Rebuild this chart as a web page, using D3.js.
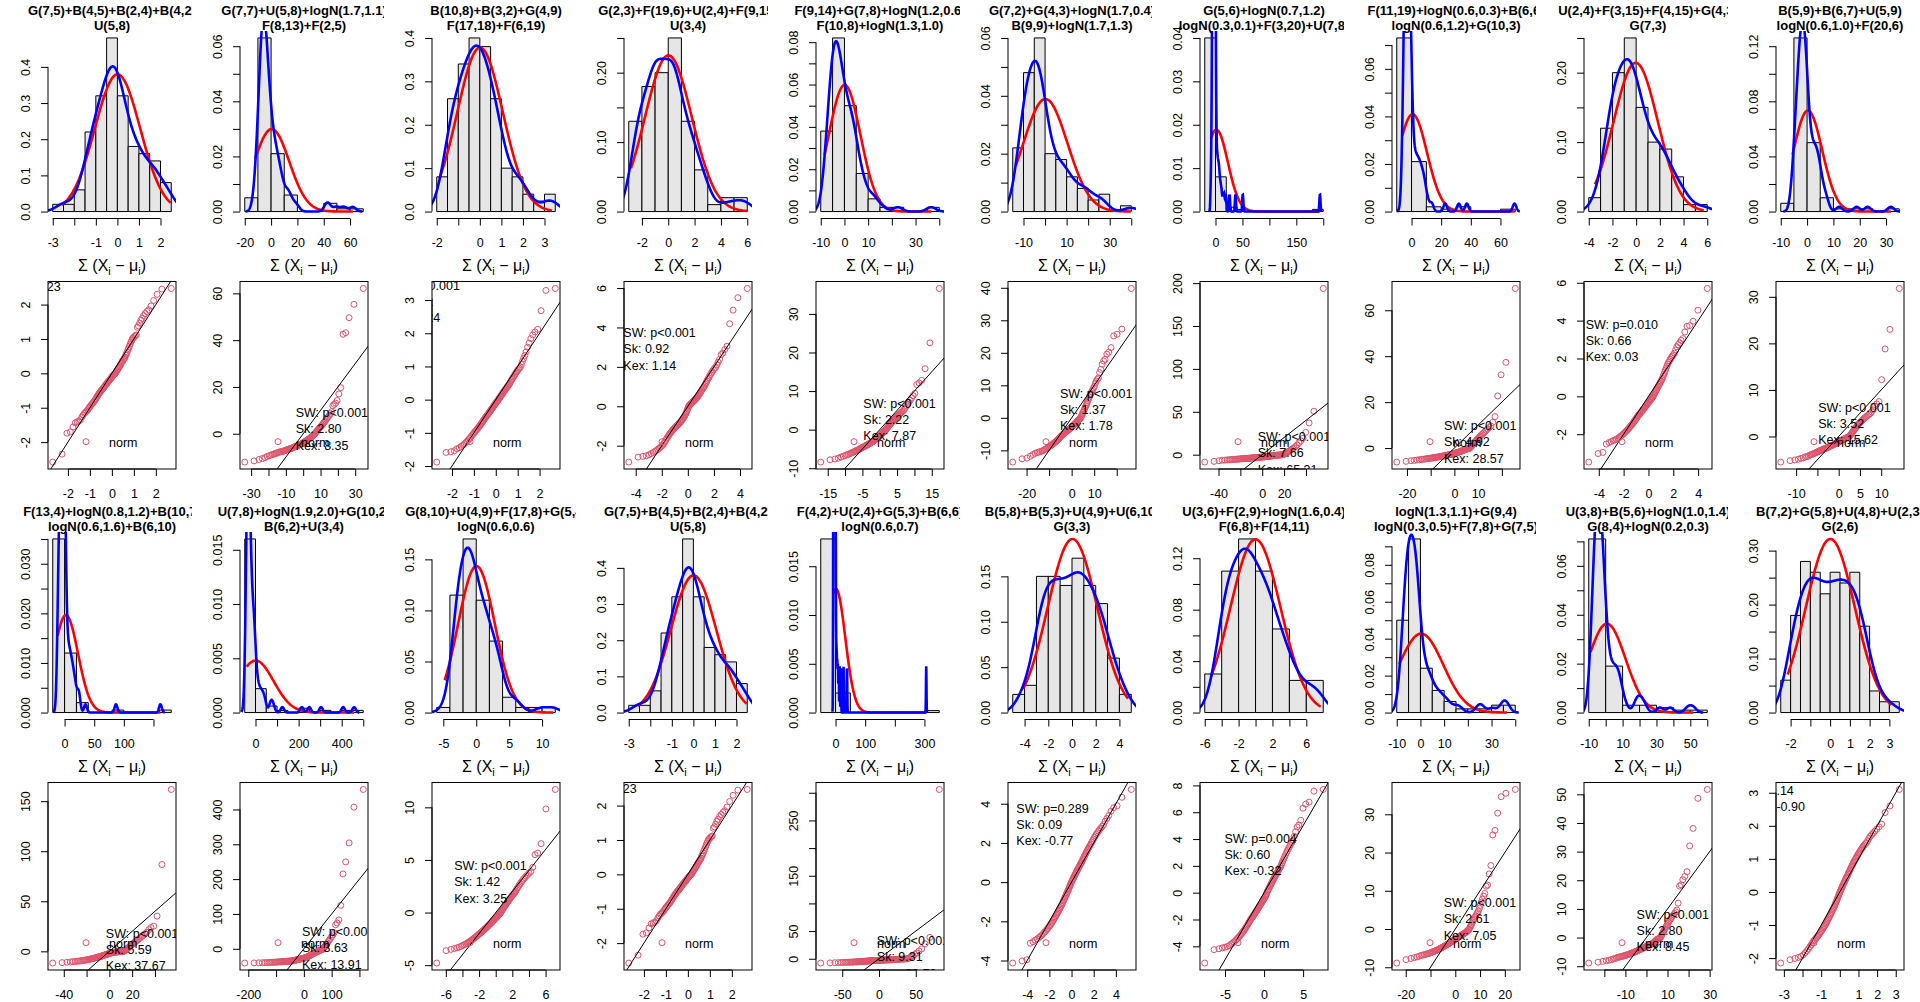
<!DOCTYPE html>
<html><head><meta charset="utf-8">
<script src="https://cdn.jsdelivr.net/npm/d3@7"></script>
<style>
body{margin:0;background:#fff;}
svg{display:block;font-family:"Liberation Sans",Arial,sans-serif;}
</style></head><body>
<svg id="c" width="1920" height="1002"></svg>
<script>
// ---------------- titles ----------------
const TITLE1 = ["G(7,5)+B(4,5)+B(2,4)+B(4,2)","G(7,7)+U(5,8)+logN(1.7,1.1)","B(10,8)+B(3,2)+G(4,9)","G(2,3)+F(19,6)+U(2,4)+F(9,15)","F(9,14)+G(7,8)+logN(1.2,0.6)","G(7,2)+G(4,3)+logN(1.7,0.4)","G(5,6)+logN(0.7,1.2)","F(11,19)+logN(0.6,0.3)+B(6,6)","U(2,4)+F(3,15)+F(4,15)+G(4,3)","B(5,9)+B(6,7)+U(5,9)",
"F(13,4)+logN(0.8,1.2)+B(10,7)","U(7,8)+logN(1.9,2.0)+G(10,2)","G(8,10)+U(4,9)+F(17,8)+G(5,4)","G(7,5)+B(4,5)+B(2,4)+B(4,2)","F(4,2)+U(2,4)+G(5,3)+B(6,6)","B(5,8)+B(5,3)+U(4,9)+U(6,10)","U(3,6)+F(2,9)+logN(1.6,0.4)","logN(1.3,1.1)+G(9,4)","U(3,8)+B(5,6)+logN(1.0,1.4)","B(7,2)+G(5,8)+U(4,8)+U(2,3)"];
const TITLE2 = ["U(5,8)","F(8,13)+F(2,5)","F(17,18)+F(6,19)","U(3,4)","F(10,8)+logN(1.3,1.0)","B(9,9)+logN(1.7,1.3)","logN(0.3,0.1)+F(3,20)+U(7,8)","logN(0.6,1.2)+G(10,3)","G(7,3)","logN(0.6,1.0)+F(20,6)",
"logN(0.6,1.6)+B(6,10)","B(6,2)+U(3,4)","logN(0.6,0.6)","U(5,8)","logN(0.6,0.7)","G(3,3)","F(6,8)+F(14,11)","logN(0.3,0.5)+F(7,8)+G(7,5)","G(8,4)+logN(0.2,0.3)","G(2,6)"];

// ---------------- samples: Σ(Xi − μi), n = 100 each ----------------
const D1 = [-2.58,-2.35,-1.74,-1.70,-1.56,-1.44,-1.41,-1.39,-1.35,-1.27,-1.21,-1.16,-1.13,-1.10,-1.06,-1.02,-0.98,-0.95,-0.91,-0.88,-0.86,-0.83,-0.79,-0.76,-0.73,-0.69,-0.66,-0.62,-0.59,-0.57,-0.54,-0.51,-0.49,-0.47,-0.45,-0.42,-0.40,-0.38,-0.35,-0.33,-0.31,-0.28,-0.26,-0.24,-0.22,-0.20,-0.18,-0.16,-0.13,-0.11,-0.09,-0.07,-0.05,-0.03,-0.02,-0.01,0.02,0.05,0.08,0.11,0.14,0.16,0.19,0.22,0.25,0.29,0.32,0.35,0.38,0.41,0.44,0.47,0.53,0.57,0.62,0.68,0.73,0.79,0.85,0.91,0.96,1.02,1.04,1.07,1.10,1.12,1.34,1.38,1.46,1.55,1.60,1.68,1.74,1.80,1.85,1.96,2.12,2.30,2.45,2.47];
const D2 = [-12.1,-11.6,-11.0,-10.6,-10.2,-9.7,-9.4,-9.1,-8.9,-8.7,-8.5,-8.3,-8.1,-7.9,-7.8,-7.7,-7.6,-7.5,-7.4,-7.3,-7.2,-7.1,-6.9,-6.8,-6.7,-6.6,-6.5,-6.4,-6.3,-6.2,-6.1,-5.9,-5.8,-5.7,-5.6,-5.5,-5.4,-5.3,-5.1,-5.0,-4.9,-4.8,-4.7,-4.6,-4.5,-4.3,-4.2,-4.1,-3.9,-3.7,-3.5,-3.4,-3.2,-3.1,-2.9,-2.8,-2.6,-2.4,-2.2,-2.1,-1.9,-1.6,-1.4,-1.1,-0.9,-0.6,-0.4,-0.2,0.2,0.5,0.9,1.2,1.6,1.9,2.3,2.7,3.0,3.4,3.8,4.2,4.7,5.1,5.6,6.2,6.8,7.3,7.9,8.6,9.4,12.0,12.6,13.1,14.2,17.0,19.7,42.5,43.2,49.6,55.3,62.1];
const D3 = [-1.88,-1.59,-1.57,-1.54,-1.48,-1.45,-1.41,-1.37,-1.33,-1.29,-1.25,-1.21,-1.17,-1.13,-1.09,-1.05,-1.02,-0.98,-0.95,-0.92,-0.89,-0.86,-0.83,-0.80,-0.77,-0.74,-0.71,-0.68,-0.65,-0.62,-0.59,-0.56,-0.53,-0.51,-0.48,-0.46,-0.43,-0.41,-0.38,-0.36,-0.33,-0.31,-0.28,-0.26,-0.23,-0.21,-0.18,-0.16,-0.13,-0.11,-0.08,-0.06,-0.04,-0.02,0.01,0.04,0.06,0.09,0.11,0.14,0.17,0.19,0.22,0.25,0.27,0.30,0.33,0.35,0.38,0.41,0.43,0.46,0.49,0.53,0.57,0.61,0.64,0.68,0.72,0.76,0.80,0.84,0.88,0.91,0.95,0.98,1.06,1.15,1.24,1.33,1.44,1.58,1.70,1.84,1.95,2.04,2.12,2.68,3.29,3.35];
const D4 = [-2.83,-2.58,-2.54,-2.51,-2.46,-2.40,-2.34,-2.29,-2.24,-2.19,-2.13,-2.08,-2.03,-1.97,-1.90,-1.82,-1.74,-1.66,-1.58,-1.51,-1.45,-1.39,-1.34,-1.29,-1.24,-1.20,-1.16,-1.12,-1.08,-1.05,-1.02,-0.98,-0.95,-0.92,-0.89,-0.86,-0.82,-0.78,-0.74,-0.70,-0.66,-0.62,-0.57,-0.52,-0.47,-0.41,-0.35,-0.28,-0.21,-0.13,-0.05,0.02,0.05,0.08,0.11,0.14,0.17,0.20,0.23,0.26,0.29,0.32,0.35,0.39,0.43,0.47,0.51,0.55,0.60,0.65,0.70,0.76,0.82,0.88,0.93,0.98,1.05,1.13,1.21,1.29,1.37,1.45,1.53,1.61,1.69,1.77,1.85,1.92,1.97,2.10,2.24,2.38,2.62,2.70,2.88,3.05,4.19,4.88,5.51,5.98];
const D5 = [-8.4,-7.8,-7.6,-7.4,-7.1,-6.9,-6.7,-6.5,-6.4,-6.2,-6.1,-5.9,-5.8,-5.7,-5.5,-5.4,-5.3,-5.2,-5.1,-4.9,-4.8,-4.7,-4.6,-4.5,-4.4,-4.3,-4.2,-4.1,-4.0,-3.9,-3.8,-3.7,-3.6,-3.5,-3.4,-3.3,-3.2,-3.1,-3.0,-2.9,-2.7,-2.6,-2.5,-2.3,-2.2,-2.1,-1.9,-1.8,-1.7,-1.5,-1.4,-1.3,-1.1,-1.0,-0.8,-0.7,-0.5,-0.4,-0.2,-0.1,0.1,0.3,0.5,0.7,0.9,1.1,1.3,1.5,1.7,1.9,2.1,2.3,2.5,2.7,2.9,3.1,3.3,3.5,3.7,3.9,4.1,4.3,4.5,4.7,4.9,5.3,5.7,6.2,6.6,7.1,7.6,8.2,8.8,9.4,11.7,12.1,12.8,15.8,22.5,36.6];
const D6 = [-13.6,-12.6,-12.4,-11.8,-11.3,-10.9,-10.7,-10.5,-10.4,-10.2,-10.1,-9.8,-9.6,-9.4,-9.2,-9.0,-8.8,-8.6,-8.4,-8.2,-8.0,-7.8,-7.6,-7.4,-7.2,-7.0,-6.8,-6.6,-6.4,-6.1,-5.9,-5.7,-5.5,-5.3,-5.1,-4.9,-4.8,-4.6,-4.5,-4.3,-4.2,-4.0,-3.9,-3.7,-3.6,-3.4,-3.3,-3.1,-3.0,-2.8,-2.6,-2.5,-2.3,-2.1,-2.0,-1.8,-1.6,-1.4,-1.2,-1.0,-0.8,-0.6,-0.4,-0.3,-0.1,0.3,0.8,1.2,1.7,2.1,2.6,3.1,3.6,4.1,4.7,5.3,5.9,6.4,7.0,7.5,8.1,8.6,9.2,9.7,10.6,11.3,11.8,12.3,13.9,14.9,16.5,17.5,18.0,19.6,20.2,21.6,25.2,25.7,27.3,39.8];
const D7 = [-8.6,-7.8,-7.0,-6.6,-6.3,-6.1,-5.9,-5.8,-5.6,-5.5,-5.4,-5.3,-5.2,-5.1,-5.0,-4.9,-4.8,-4.7,-4.65,-4.6,-4.5,-4.4,-4.35,-4.3,-4.2,-4.15,-4.1,-4.0,-3.95,-3.9,-3.8,-3.75,-3.7,-3.6,-3.55,-3.5,-3.4,-3.35,-3.3,-3.2,-3.15,-3.1,-3.0,-2.95,-2.9,-2.8,-2.75,-2.7,-2.6,-2.55,-2.5,-2.4,-2.3,-2.25,-2.2,-2.1,-2.0,-1.9,-1.85,-1.8,-1.7,-1.6,-1.5,-1.4,-1.3,-1.2,-1.1,-1.0,-0.9,-0.8,-0.7,-0.6,-0.5,-0.45,-0.4,-0.3,-0.25,-0.2,-0.1,-0.05,0.4,0.9,1.5,2.2,2.9,3.6,4.4,5.3,6.1,7.0,8.2,9.6,11.3,13.8,16.2,19.1,26.0,37.0,50.6,193.8];
const D8 = [-6.1,-5.8,-5.5,-5.4,-5.2,-5.1,-5.0,-4.9,-4.8,-4.7,-4.6,-4.55,-4.5,-4.4,-4.35,-4.3,-4.2,-4.15,-4.1,-4.0,-3.95,-3.9,-3.85,-3.8,-3.7,-3.65,-3.6,-3.55,-3.5,-3.45,-3.4,-3.3,-3.25,-3.2,-3.15,-3.1,-3.0,-2.95,-2.9,-2.85,-2.8,-2.7,-2.65,-2.6,-2.5,-2.45,-2.4,-2.3,-2.25,-2.2,-2.1,-2.0,-1.95,-1.9,-1.8,-1.7,-1.6,-1.5,-1.4,-1.3,-1.2,-1.1,-1.0,-0.9,-0.8,-0.7,-0.6,-0.5,-0.4,-0.3,-0.2,-0.15,-0.05,0.3,0.7,1.1,1.5,1.9,2.3,2.7,3.1,3.5,3.9,4.3,4.8,5.2,5.7,6.1,6.6,7.1,7.7,8.3,8.9,9.6,11.2,13.7,22.7,31.9,37.3,69.5];
const D9 = [-3.47,-3.02,-2.96,-2.52,-2.44,-2.39,-2.34,-2.30,-2.26,-2.21,-2.17,-2.12,-2.07,-2.02,-1.97,-1.92,-1.87,-1.82,-1.77,-1.72,-1.67,-1.62,-1.57,-1.52,-1.47,-1.42,-1.37,-1.32,-1.27,-1.22,-1.17,-1.12,-1.07,-1.02,-0.98,-0.94,-0.90,-0.86,-0.82,-0.78,-0.74,-0.70,-0.66,-0.62,-0.58,-0.54,-0.50,-0.46,-0.42,-0.38,-0.34,-0.30,-0.26,-0.22,-0.18,-0.14,-0.10,-0.06,-0.02,0.04,0.10,0.17,0.23,0.30,0.36,0.42,0.49,0.55,0.62,0.68,0.75,0.81,0.88,0.95,1.06,1.16,1.27,1.38,1.49,1.60,1.71,1.80,1.88,1.96,2.05,2.12,2.20,2.28,2.45,2.62,2.73,2.82,2.96,3.05,3.40,3.70,3.74,3.97,4.55,5.70];
const D10 = [-5.5,-5.2,-5.05,-4.9,-4.7,-4.6,-4.4,-4.3,-4.2,-4.0,-3.9,-3.8,-3.7,-3.6,-3.5,-3.4,-3.3,-3.2,-3.1,-3.0,-2.95,-2.9,-2.8,-2.75,-2.7,-2.6,-2.55,-2.5,-2.4,-2.35,-2.3,-2.2,-2.15,-2.1,-2.0,-1.95,-1.9,-1.85,-1.8,-1.7,-1.65,-1.6,-1.5,-1.45,-1.4,-1.3,-1.25,-1.2,-1.1,-1.05,-1.0,-0.9,-0.85,-0.8,-0.7,-0.65,-0.6,-0.5,-0.45,-0.4,-0.35,-0.3,-0.2,-0.15,-0.1,-0.05,0.1,0.3,0.5,0.7,0.9,1.1,1.3,1.5,1.7,1.9,2.1,2.3,2.5,2.7,2.9,3.1,3.3,3.5,3.7,3.9,4.1,4.3,4.5,4.7,4.9,5.3,5.7,6.5,7.0,7.5,12.2,18.8,23.0,31.8];
const D11 = [-11.7,-11.3,-10.9,-10.6,-10.3,-10.1,-9.9,-9.7,-9.5,-9.3,-9.1,-8.9,-8.7,-8.5,-8.3,-8.1,-7.9,-7.7,-7.5,-7.3,-7.1,-6.9,-6.7,-6.5,-6.3,-6.1,-5.9,-5.7,-5.5,-5.3,-5.1,-4.9,-4.7,-4.5,-4.3,-4.1,-3.9,-3.7,-3.5,-3.3,-3.1,-2.9,-2.7,-2.5,-2.3,-2.1,-1.9,-1.7,-1.5,-1.4,-1.3,-1.2,-1.1,-1.0,-0.9,-0.8,-0.7,-0.6,-0.55,-0.5,-0.45,-0.4,-0.35,-0.3,-0.25,-0.2,-0.15,-0.1,-0.06,-0.03,0.4,0.9,1.5,2.1,2.7,3.3,3.9,4.5,5.2,5.9,6.6,7.3,8.0,8.8,9.6,10.4,11.2,12.1,13.0,14.0,15.1,16.3,17.6,19.0,21.6,23.8,25.1,35.2,86.7,161.7];
const D12 = [-41.0,-40.6,-40.3,-40.0,-39.8,-39.5,-39.3,-39.0,-38.8,-38.6,-38.4,-38.2,-38.0,-37.8,-37.6,-37.4,-37.2,-37.0,-36.8,-36.6,-36.4,-36.2,-36.0,-35.8,-35.7,-35.5,-35.4,-35.3,-35.1,-35.0,-34.6,-34.2,-33.8,-33.4,-33.0,-32.6,-32.2,-31.8,-31.4,-31.0,-30.6,-30.2,-29.8,-29.4,-29.0,-28.6,-28.2,-27.8,-27.4,-27.0,-26.6,-26.2,-25.8,-25.4,-25.0,-24.0,-23.0,-22.0,-21.0,-20.0,-19.0,-18.0,-17.0,-16.0,-15.0,-14.0,-13.0,-12.0,-11.0,-10.2,-9.3,-8.4,-7.5,-6.6,-5.7,-4.8,-3.9,-3.0,-2.0,-1.0,2.5,6.0,9.5,13.0,17.0,21.0,25.5,30.0,35.0,40.0,46.0,69.0,74.0,83.0,124.6,215.0,249.5,304.0,406.6,457.5];
const D13 = [-4.8,-3.62,-3.5,-3.42,-3.35,-3.28,-3.2,-3.12,-3.05,-2.98,-2.9,-2.83,-2.76,-2.69,-2.62,-2.55,-2.48,-2.41,-2.35,-2.28,-2.22,-2.15,-2.09,-2.03,-1.97,-1.91,-1.85,-1.79,-1.74,-1.68,-1.62,-1.56,-1.5,-1.45,-1.39,-1.33,-1.27,-1.22,-1.16,-1.1,-1.05,-0.99,-0.93,-0.88,-0.82,-0.76,-0.71,-0.65,-0.59,-0.53,-0.48,-0.42,-0.36,-0.3,-0.24,-0.18,-0.12,-0.05,0.04,0.13,0.22,0.31,0.4,0.49,0.58,0.67,0.76,0.85,0.94,1.03,1.12,1.21,1.3,1.39,1.48,1.57,1.66,1.75,1.84,1.93,2.06,2.2,2.34,2.48,2.62,2.76,2.9,3.04,3.18,3.32,3.46,3.6,3.75,3.9,4.3,5.5,5.65,6.55,9.85,11.7];
const D15 = [-7.8,-7.5,-7.2,-7.0,-6.8,-6.6,-6.5,-6.4,-6.3,-6.2,-6.1,-6.0,-5.9,-5.8,-5.7,-5.6,-5.5,-5.4,-5.3,-5.2,-5.1,-5.0,-4.9,-4.8,-4.7,-4.6,-4.5,-4.4,-4.3,-4.2,-4.1,-4.0,-3.9,-3.8,-3.7,-3.6,-3.5,-3.4,-3.3,-3.25,-3.2,-3.15,-3.1,-3.05,-3.0,-2.95,-2.9,-2.85,-2.8,-2.75,-2.7,-2.65,-2.6,-2.55,-2.5,-2.45,-2.4,-2.35,-2.3,-2.25,-2.2,-2.15,-2.1,-2.05,-2.0,-1.95,-1.9,-1.85,-1.8,-1.75,-1.7,-1.65,-1.6,-1.55,-1.5,-1.4,-1.3,-1.2,-1.1,-1.0,-0.9,-0.8,-0.7,-0.6,-0.5,-0.4,-0.3,-0.2,-0.1,1.2,2.5,4.0,5.8,7.9,10.5,14.0,18.0,27.0,38.6,306.0];
const D16 = [-4.13,-4.02,-3.96,-3.12,-3.04,-2.96,-2.9,-2.83,-2.76,-2.7,-2.63,-2.56,-2.5,-2.43,-2.37,-2.3,-2.24,-2.17,-2.1,-2.04,-1.96,-1.9,-1.83,-1.77,-1.7,-1.63,-1.57,-1.5,-1.43,-1.37,-1.3,-1.23,-1.17,-1.1,-1.04,-0.96,-0.89,-0.82,-0.75,-0.68,-0.61,-0.54,-0.47,-0.4,-0.33,-0.26,-0.19,-0.12,-0.05,0.03,0.09,0.15,0.21,0.27,0.33,0.39,0.45,0.51,0.57,0.63,0.69,0.75,0.81,0.87,0.93,0.98,1.04,1.11,1.18,1.25,1.32,1.39,1.46,1.53,1.6,1.67,1.74,1.81,1.88,1.95,2.04,2.12,2.2,2.28,2.36,2.44,2.52,2.6,2.68,2.76,2.84,2.93,3.1,3.25,3.4,3.62,3.8,3.9,4.33,4.73];
const D17 = [-5.25,-4.25,-4.18,-4.12,-4.07,-4.02,-3.95,-3.86,-3.77,-3.68,-3.59,-3.5,-3.41,-3.32,-3.23,-3.14,-3.05,-2.96,-2.87,-2.78,-2.69,-2.6,-2.51,-2.42,-2.33,-2.24,-2.15,-2.06,-1.97,-1.9,-1.83,-1.76,-1.69,-1.62,-1.55,-1.48,-1.41,-1.34,-1.27,-1.2,-1.13,-1.06,-0.99,-0.92,-0.85,-0.78,-0.71,-0.64,-0.57,-0.5,-0.43,-0.36,-0.27,-0.18,-0.08,0.05,0.14,0.23,0.32,0.41,0.5,0.59,0.68,0.77,0.86,0.95,1.04,1.13,1.22,1.31,1.4,1.49,1.58,1.67,1.76,1.85,1.94,2.08,2.23,2.38,2.53,2.68,2.83,2.98,3.13,3.28,3.43,3.58,3.73,3.88,4.2,4.55,4.9,5.05,5.4,6.3,6.6,6.75,7.57,7.7];
const D18 = [-8.9,-8.0,-7.7,-7.5,-7.3,-7.1,-6.9,-6.8,-6.7,-6.6,-6.5,-6.4,-6.3,-6.2,-6.1,-6.0,-5.9,-5.8,-5.7,-5.6,-5.5,-5.4,-5.3,-5.2,-5.1,-4.95,-4.9,-4.8,-4.7,-4.6,-4.5,-4.4,-4.3,-4.2,-4.1,-4.0,-3.9,-3.8,-3.7,-3.6,-3.5,-3.4,-3.3,-3.2,-3.1,-3.0,-2.9,-2.8,-2.7,-2.6,-2.5,-2.4,-2.3,-2.2,-2.1,-2.0,-1.9,-1.8,-1.7,-1.6,-1.5,-1.4,-1.3,-1.2,-1.1,-1.0,-0.85,-0.7,-0.55,-0.4,-0.25,-0.1,0.3,0.7,1.1,1.5,1.9,2.3,2.7,3.1,3.5,3.9,4.3,4.7,5.4,6.2,7.0,7.8,8.6,9.3,11.2,11.5,14.4,16.6,24.6,25.8,30.3,34.6,35.5,36.5];
const D19 = [-8.9,-8.6,-8.3,-8.1,-7.9,-7.7,-7.5,-7.3,-7.1,-6.9,-6.8,-6.7,-6.6,-6.5,-6.4,-6.3,-6.2,-6.1,-6.0,-5.9,-5.8,-5.7,-5.6,-5.5,-5.4,-5.3,-5.2,-5.1,-5.0,-4.9,-4.8,-4.7,-4.6,-4.5,-4.4,-4.3,-4.2,-4.1,-4.0,-3.9,-3.8,-3.7,-3.6,-3.5,-3.4,-3.3,-3.2,-3.1,-3.0,-2.9,-2.8,-2.7,-2.6,-2.5,-2.4,-2.3,-2.2,-2.1,-2.0,-1.8,-1.6,-1.4,-1.2,-1.0,-0.8,-0.6,-0.5,-0.4,-0.3,-0.2,-0.1,0.4,0.9,1.4,1.9,2.4,2.9,3.4,3.9,4.4,4.9,5.4,5.9,6.4,6.9,7.4,7.9,8.4,9.0,9.6,12.0,18.0,18.4,20.2,21.3,23.0,32.0,38.1,48.6,51.7];
const D20 = [-2.15,-2.05,-2.01,-1.98,-1.95,-1.9,-1.84,-1.78,-1.72,-1.66,-1.6,-1.54,-1.48,-1.45,-1.41,-1.38,-1.34,-1.31,-1.27,-1.23,-1.2,-1.16,-1.12,-1.09,-1.05,-1.02,-0.98,-0.94,-0.9,-0.86,-0.82,-0.78,-0.74,-0.7,-0.66,-0.62,-0.58,-0.54,-0.51,-0.47,-0.43,-0.38,-0.34,-0.29,-0.25,-0.2,-0.16,-0.11,-0.07,-0.02,0.02,0.06,0.1,0.14,0.18,0.22,0.26,0.3,0.34,0.38,0.42,0.46,0.49,0.53,0.57,0.61,0.65,0.7,0.74,0.78,0.82,0.86,0.9,0.94,0.98,1.02,1.06,1.1,1.14,1.18,1.22,1.26,1.3,1.34,1.38,1.42,1.46,1.49,1.55,1.62,1.68,1.73,1.78,1.84,1.9,1.97,2.05,2.4,2.6,3.1];
const PANEL_DATA = [D1,D2,D3,D4,D5,D6,D7,D8,D9,D10,D11,D12,D13,D1,D15,D16,D17,D18,D19,D20];

// ---------------- histogram breaks [from, to, width] ----------------
const BREAKS = [[-3,2.5,0.5],[-20,70,10],[-2,3.5,0.5],[-3,6,1],[-10,40,5],[-15,40,5],[-20,200,20],[-10,70,10],[-4,6,1],[-10,35,5],
[-20,180,20],[-50,500,50],[-6,12,2],[-3,2.5,0.5],[-50,350,50],[-5,5,1],[-6,8,2],[-10,40,5],[-10,60,10],[-2.5,3.5,0.5]];

// ---------------- histogram axis ticks / labels ----------------
const HX_TICKS = [[-3,-2,-1,0,1,2],[-20,0,20,40,60],[-2,-1,0,1,2,3],[-2,0,2,4,6],[-10,0,10,20,30,40],[-10,0,10,20,30,40],[0,50,100,150,200],[0,20,40,60],[-4,-2,0,2,4,6],[-10,0,10,20,30],
[0,50,100,150],[0,100,200,300,400,500],[-5,0,5,10],[-3,-2,-1,0,1,2],[0,100,200,300],[-4,-2,0,2,4],[-6,-4,-2,0,2,4,6],[-10,0,10,20,30,40],[-10,0,10,20,30,40,50,60],[-2,-1,0,1,2,3]];
const HX_LABELS = [["-3","","-1","0","1","2"],null,["-2","","0","1","2","3"],null,["-10","0","10","","30",""],["-10","","10","","30",""],["0","50","","150",""],null,null,null,
["0","50","100",""],["0","","200","","400",""],null,["-3","","-1","0","1","2"],["0","100","","300"],null,["-6","","-2","","2","","6"],["-10","0","10","","30",""],["-10","","10","","30","","50",""],["-2","","0","1","2","3"]];
const HY_TICKS = [[0,0.1,0.2,0.3,0.4],[0,0.01,0.02,0.03,0.04,0.05,0.06],[0,0.1,0.2,0.3,0.4],[0,0.05,0.1,0.15,0.2,0.25],[0,0.01,0.02,0.03,0.04,0.05,0.06,0.07,0.08],[0,0.01,0.02,0.03,0.04,0.05,0.06],[0,0.01,0.02,0.03,0.04],[0,0.01,0.02,0.03,0.04,0.05,0.06,0.07],[0,0.05,0.1,0.15,0.2,0.25],[0,0.02,0.04,0.06,0.08,0.1,0.12],
[0,0.005,0.01,0.015,0.02,0.025,0.03,0.035],[0,0.005,0.01,0.015],[0,0.05,0.1,0.15],[0,0.1,0.2,0.3,0.4],[0,0.005,0.01,0.015],[0,0.05,0.1,0.15,0.2],[0,0.02,0.04,0.06,0.08,0.1,0.12],[0,0.01,0.02,0.03,0.04,0.05,0.06,0.07,0.08,0.09],[0,0.01,0.02,0.03,0.04,0.05,0.06,0.07],[0,0.05,0.1,0.15,0.2,0.25,0.3]];
const HY_LABELS = [["0.0","0.1","0.2","0.3","0.4"],["0.00","","0.02","","0.04","","0.06"],["0.0","0.1","0.2","0.3","0.4"],["0.00","","0.10","","0.20",""],["0.00","","0.02","","0.04","","0.06","","0.08"],["0.00","","0.02","","0.04","","0.06"],["0.00","0.01","0.02","0.03","0.04"],["0.00","","0.02","","0.04","","0.06",""],["0.00","","0.10","","0.20",""],["0.00","","0.04","","0.08","","0.12"],
["0.000","","0.010","","0.020","","0.030",""],["0.000","0.005","0.010","0.015"],["0.00","0.05","0.10","0.15"],["0.0","0.1","0.2","0.3","0.4"],["0.000","0.005","0.010","0.015"],["0.00","0.05","0.10","0.15","0.20"],["0.00","","0.04","","0.08","","0.12"],["0.00","","0.02","","0.04","","0.06","","0.08",""],["0.00","","0.02","","0.04","","0.06",""],["0.00","","0.10","","0.20","","0.30"]];

// ---------------- QQ axis ticks / labels ----------------
const QX_TICKS = [[-2,-1,0,1,2],[-30,-20,-10,0,10,20,30],[-2,-1,0,1,2],[-4,-2,0,2,4],[-15,-10,-5,0,5,10,15],[-20,-10,0,10,20],[-40,-20,0,20,40],[-20,-10,0,10,20],[-4,-2,0,2,4],[-10,-5,0,5,10],
[-40,-20,0,20,40],[-200,-100,0,100,200],[-6,-4,-2,0,2,4,6],[-2,-1,0,1,2],[-50,0,50],[-4,-2,0,2,4],[-5,0,5],[-20,-10,0,10,20],[-30,-20,-10,0,10,20,30],[-3,-2,-1,0,1,2,3]];
const QX_LABELS = [null,["-30","","-10","","10","","30"],null,null,["-15","","-5","","5","","15"],["-20","","0","10",""],["-40","","0","20",""],["-20","","0","10",""],null,["-10","","0","5","10"],
["-40","","0","20",""],["-200","","0","100",""],["-6","","-2","","2","","6"],null,null,null,null,["-20","","0","10","20"],["-30","","-10","","10","","30"],["-3","","-1","","1","2","3"]];
const QY_TICKS = [[-2,-1,0,1,2],[0,20,40,60],[-2,-1,0,1,2,3],[-2,0,2,4,6],[-10,0,10,20,30],[-10,0,10,20,30,40],[0,50,100,150,200],[0,20,40,60],[-2,0,2,4,6],[0,10,20,30],
[0,50,100,150],[0,100,200,300,400],[-5,0,5,10],[-2,-1,0,1,2],[0,50,100,150,200,250,300],[-4,-2,0,2,4],[-4,-2,0,2,4,6,8],[-10,0,10,20,30],[-10,0,10,20,30,40,50],[-2,-1,0,1,2,3]];
const QY_LABELS = [null,null,null,null,null,null,null,null,null,null,null,null,null,null,["0","50","","150","","250",""],null,null,null,null,null];

// ---------------- normality statistics printed on QQ plots ----------------
const SW_TEXT  = ["SW: p=0.523","SW: p<0.001","SW: p<0.001","SW: p<0.001","SW: p<0.001","SW: p<0.001","SW: p<0.001","SW: p<0.001","SW: p=0.010","SW: p<0.001","SW: p<0.001","SW: p<0.001","SW: p<0.001","SW: p=0.523","SW: p<0.001","SW: p=0.289","SW: p=0.004","SW: p<0.001","SW: p<0.001","SW: p=0.114"];
const SK_TEXT  = ["Sk: 0.05","Sk: 2.80","Sk: 0.62","Sk: 0.92","Sk: 2.22","Sk: 1.37","Sk: 7.66","Sk: 4.92","Sk: 0.66","Sk: 3.52","Sk: 5.59","Sk: 3.63","Sk: 1.42","Sk: 0.05","Sk: 9.31","Sk: 0.09","Sk: 0.60","Sk: 2.61","Sk: 2.80","Sk: 0.14"];
const KEX_TEXT = ["Kex: -0.30","Kex: 8.35","Kex: 0.24","Kex: 1.14","Kex: 7.87","Kex: 1.78","Kex: 65.31","Kex: 28.57","Kex: 0.03","Kex: 15.62","Kex: 37.67","Kex: 13.91","Kex: 3.25","Kex: -0.30","Kex: 88.70","Kex: -0.77","Kex: -0.32","Kex: 7.05","Kex: 8.45","Kex: -0.90"];

// ---------------- layout (not data) ----------------
const COLW = 192, ROWH = 250.5, PL = 48, PR = 176, PT = 31, PB = 218.5;
const STAT_POS = [[-0.466,0.029],[0.435,0.70],[-0.348,0.019],[-0.005,0.273],[0.37,0.65],[0.406,0.596],[0.451,0.828],[0.406,0.769],[0.013,0.227],[0.33,0.671],
[0.452,0.804],[0.484,0.796],[0.174,0.444],[-0.466,0.031],[0.475,0.844],[0.065,0.138],[0.191,0.298],[0.404,0.641],[0.411,0.703],[-0.219,-0.046]];
const FONT = '"Liberation Sans", Arial, sans-serif';
const PINK = '#DF536B';

function qnorm(p){
  const a=[-3.969683028665376e+01,2.209460984245205e+02,-2.759285104469687e+02,1.383577518672690e+02,-3.066479806614716e+01,2.506628277459239e+00];
  const b=[-5.447609879822406e+01,1.615858368580409e+02,-1.556989798598866e+02,6.680131188771972e+01,-1.328068155288572e+01];
  const c=[-7.784894002430293e-03,-3.223964580411365e-01,-2.400758277161838e+00,-2.549671010432133e+00,4.374664141464968e+00,2.938163982698783e+00];
  const d=[7.784695709041462e-03,3.224671290700398e-01,2.445134137142996e+00,3.754408661907416e+00];
  const pl=0.02425; let q,r;
  if(p<pl){q=Math.sqrt(-2*Math.log(p));return (((((c[0]*q+c[1])*q+c[2])*q+c[3])*q+c[4])*q+c[5])/((((d[0]*q+d[1])*q+d[2])*q+d[3])*q+1);}
  if(p<=1-pl){q=p-0.5;r=q*q;return (((((a[0]*r+a[1])*r+a[2])*r+a[3])*r+a[4])*r+a[5])*q/(((((b[0]*r+b[1])*r+b[2])*r+b[3])*r+b[4])*r+1);}
  q=Math.sqrt(-2*Math.log(1-p));return -(((((c[0]*q+c[1])*q+c[2])*q+c[3])*q+c[4])*q+c[5])/((((d[0]*q+d[1])*q+d[2])*q+d[3])*q+1);
}
const pad = ([a,b]) => [a-0.04*(b-a), b+0.04*(b-a)];

const svg = d3.select('#c');
svg.append('rect').attr('width',1920).attr('height',1002).attr('fill','#fff');
const defs = svg.append('defs');
defs.append('clipPath').attr('id','fig').append('rect').attr('x',0).attr('y',0).attr('width',COLW).attr('height',285);
defs.append('clipPath').attr('id','plot').append('rect').attr('x',PL).attr('y',PT).attr('width',PR-PL).attr('height',PB-PT);

function styleAxis(g){
  g.attr('font-family',FONT).attr('font-size',12.5);
  g.selectAll('line').attr('stroke','#000');
  g.selectAll('.domain').attr('stroke','#000');
  g.selectAll('text').attr('fill','#000');
}
function drawAxes(g, x, y, xt, xl, yt, yl){
  const xdom = x.domain(), ydom = y.domain();
  const xi = xt.map((v,i)=>[v,xl?xl[i]:String(v)]).filter(d=>d[0]>=xdom[0]&&d[0]<=xdom[1]);
  const yi = yt.map((v,i)=>[v,yl?yl[i]:String(v)]).filter(d=>d[0]>=ydom[0]&&d[0]<=ydom[1]);
  const xm = new Map(xi), ym = new Map(yi);
  const xa = g.append('g').attr('transform',`translate(0,${PB})`)
    .call(d3.axisBottom(x).tickValues(xi.map(d=>d[0])).tickFormat(d=>xm.get(d)).tickSize(7).tickPadding(13));
  xa.select('.domain').attr('d',`M${x(xi[0][0])},0H${x(xi[xi.length-1][0])}`);
  styleAxis(xa);
  const ya = g.append('g').attr('transform',`translate(${PL},0)`)
    .call(d3.axisLeft(y).tickValues(yi.map(d=>d[0])).tickFormat(d=>ym.get(d)).tickSize(7));
  ya.select('.domain').attr('d',`M0,${y(yi[0][0])}V${y(yi[yi.length-1][0])}`);
  ya.selectAll('text').attr('x',0).attr('dy',null).attr('text-anchor','middle').attr('transform','translate(-18.5,0) rotate(-90)');
  styleAxis(ya);
}

function drawHist(k, col, row){
  const g = svg.append('g').attr('transform',`translate(${col*COLW},${row*ROWH})`);
  const data = PANEL_DATA[k], n = data.length;
  const [b0,b1,w] = BREAKS[k];
  const nb = Math.round((b1-b0)/w);
  const edges = d3.range(nb+1).map(i=>+(b0+i*w).toFixed(6));
  const bins = d3.bin().domain([b0,b1]).thresholds(edges.slice(1,-1))(data);
  const dens = bins.map(b=>b.length/(n*w));
  const s = data.slice().sort(d3.ascending);
  const mean = d3.mean(s), sd = d3.deviation(s);
  const iqr = d3.quantileSorted(s,0.75)-d3.quantileSorted(s,0.25);
  const bw = 0.9*Math.min(sd, iqr/1.34)*Math.pow(n,-0.2);
  const lo = s[0]-3*bw, hi = s[n-1]+3*bw;
  const kde = d3.range(512).map(i=>{const xv=lo+(hi-lo)*i/511; let sum=0; for(const v of s){const z=(xv-v)/bw; sum+=Math.exp(-0.5*z*z);} return [xv, sum/(n*bw*Math.sqrt(2*Math.PI))];});
  const nrm = d3.range(101).map(i=>{const xv=s[0]+(s[n-1]-s[0])*i/100; const z=(xv-mean)/sd; return [xv, Math.exp(-0.5*z*z)/(sd*Math.sqrt(2*Math.PI))];});
  const maxD = Math.max(d3.max(dens), d3.max(nrm, d=>d[1]));
  const x = d3.scaleLinear().domain(pad([b0,b1])).range([PL,PR]);
  const y = d3.scaleLinear().domain([-0.04*maxD, 1.04*maxD]).range([PB,PT]);
  g.append('g').selectAll('path').data(bins).join('path')
    .attr('d',(b,i)=>`M${x(b.x0)},${y(0)}V${y(dens[i])}H${x(b.x1)}V${y(0)}Z`)
    .attr('fill','#e6e6e6').attr('stroke','#000').attr('stroke-width',1);
  const line = d3.line().x(d=>x(d[0])).y(d=>y(d[1]));
  const cg = g.append('g').attr('clip-path','url(#plot)');
  cg.append('path').attr('d',line(nrm)).attr('fill','none').attr('stroke','#FF0000').attr('stroke-width',2.6);
  cg.append('path').attr('d',line(kde)).attr('fill','none').attr('stroke','#0000FF').attr('stroke-width',2.6);
  drawAxes(g, x, y, HX_TICKS[k], HX_LABELS[k], HY_TICKS[k], HY_LABELS[k]);
  const tg = g.append('g').attr('clip-path','url(#fig)').attr('font-family',FONT).attr('font-weight','bold').attr('font-size',13).attr('text-anchor','middle');
  tg.append('text').attr('x',(PL+PR)/2).attr('y',14.7).text(TITLE1[k]);
  tg.append('text').attr('x',(PL+PR)/2).attr('y',30.2).text(TITLE2[k]);
  const xl = g.append('text').attr('x',(PL+PR)/2).attr('y',270.5).attr('text-anchor','middle').attr('font-family',FONT).attr('font-size',16);
  xl.append('tspan').text('Σ (X');
  xl.append('tspan').attr('dy',4).attr('font-size',11).text('i');
  xl.append('tspan').attr('dy',-4).text(' − μ');
  xl.append('tspan').attr('dy',4).attr('font-size',11).text('i');
  xl.append('tspan').attr('dy',-4).text(')');
}

function drawQQ(k, col, row){
  const g = svg.append('g').attr('transform',`translate(${col*COLW},${row*ROWH})`);
  const s = PANEL_DATA[k].slice().sort(d3.ascending), n = s.length;
  const m = d3.mean(s), sm = Math.sqrt(d3.mean(s,v=>(v-m)*(v-m)));
  const th = s.map((v,i)=>m+sm*qnorm((i+0.5)/n));
  const x = d3.scaleLinear().domain(pad(d3.extent(th))).range([PL,PR]);
  const y = d3.scaleLinear().domain(pad(d3.extent(s))).range([PB,PT]);
  const cg = g.append('g').attr('clip-path','url(#plot)');
  cg.selectAll('circle').data(s).join('circle')
    .attr('cx',(v,i)=>x(th[i])).attr('cy',v=>y(v)).attr('r',3)
    .attr('fill','none').attr('stroke',PINK).attr('stroke-width',1);
  const lo = Math.min(x.domain()[0],y.domain()[0]), hi = Math.max(x.domain()[1],y.domain()[1]);
  cg.append('line').attr('x1',x(lo)).attr('y1',y(lo)).attr('x2',x(hi)).attr('y2',y(hi)).attr('stroke','#000').attr('stroke-width',1);
  g.append('circle').attr('cx',86).attr('cy',191.2).attr('r',3).attr('fill','none').attr('stroke',PINK);
  g.append('text').attr('x',109).attr('y',196.7).attr('font-family',FONT).attr('font-size',12.5).text('norm');
  const [fx,fy] = STAT_POS[k];
  const tx = PL+fx*(PR-PL), ty = PT+fy*(PB-PT)+4.5;
  const sg = g.append('g').attr('clip-path','url(#plot)').attr('font-family',FONT).attr('font-size',12.5);
  [SW_TEXT[k],SK_TEXT[k],KEX_TEXT[k]].forEach((t,i)=>sg.append('text').attr('x',tx).attr('y',ty+i*16.2).text(t));
  g.append('rect').attr('x',PL).attr('y',PT).attr('width',PR-PL).attr('height',PB-PT).attr('fill','none').attr('stroke','#000').attr('stroke-width',1);
  drawAxes(g, x, y, QX_TICKS[k], QX_LABELS[k], QY_TICKS[k], QY_LABELS[k]);
}

for(let k=0;k<20;k++){
  const col = k%10, band = Math.floor(k/10);
  drawHist(k, col, band*2);
  drawQQ(k, col, band*2+1);
}
</script>
</body></html>
